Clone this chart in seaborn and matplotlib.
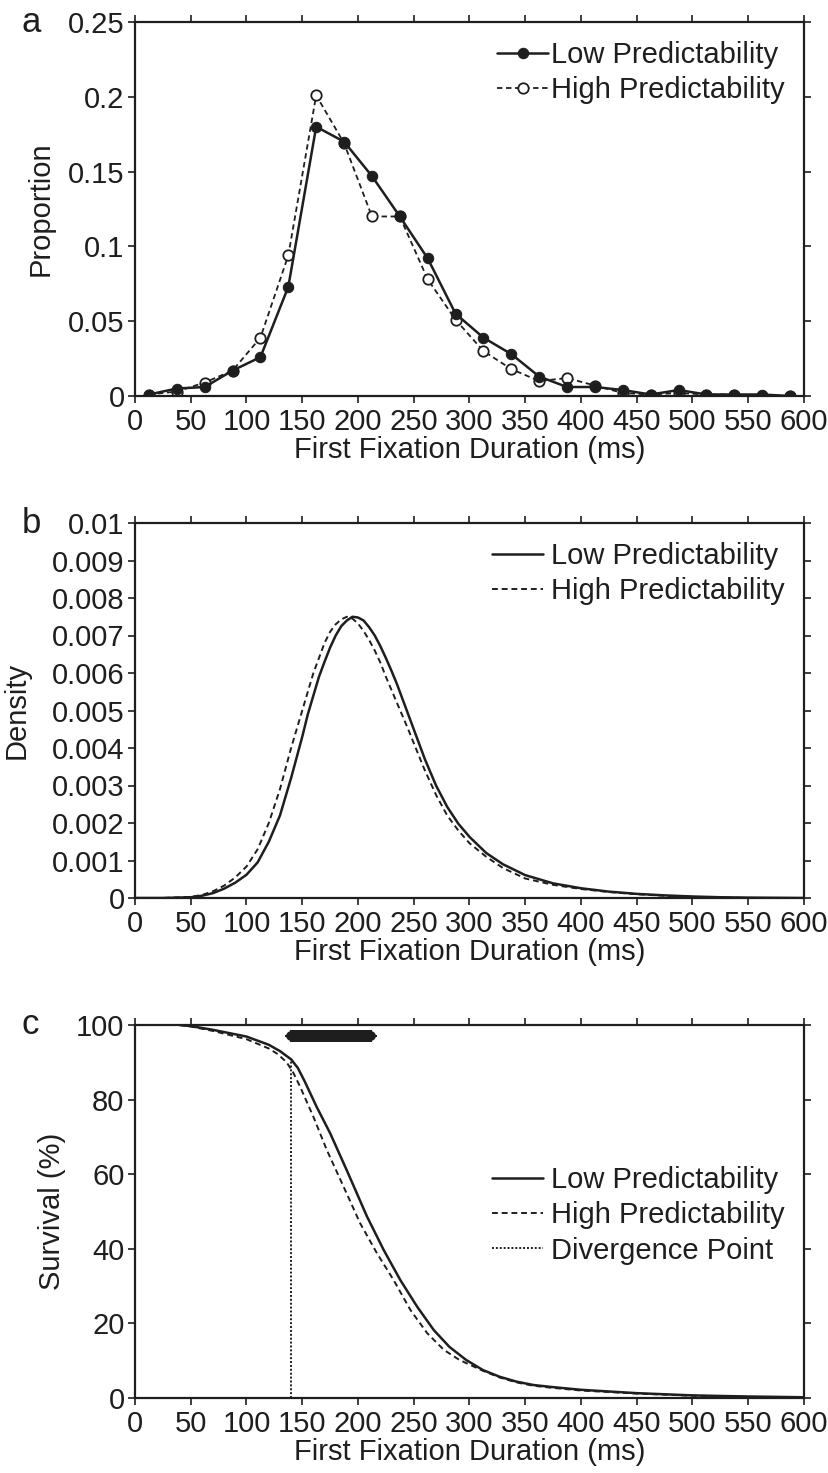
import numpy as np
import pandas as pd
import matplotlib
matplotlib.use("Agg")
import matplotlib.pyplot as plt
import seaborn as sns

# -----------------------------
# Data
# -----------------------------

# panel a: proportion per 25 ms bin (bin centres)
bin_centres = [12.5, 37.5, 62.5, 87.5, 112.5, 137.5, 162.5, 187.5, 212.5, 237.5,
               262.5, 287.5, 312.5, 337.5, 362.5, 387.5, 412.5, 437.5, 462.5,
               487.5, 512.5, 537.5, 562.5, 587.5]
prop_low = [0.001, 0.005, 0.006, 0.017, 0.026, 0.073, 0.180, 0.170, 0.147, 0.120,
            0.092, 0.055, 0.039, 0.028, 0.013, 0.006, 0.006, 0.004, 0.001,
            0.004, 0.001, 0.001, 0.001, 0.000]
prop_high = [0.001, 0.003, 0.009, 0.017, 0.039, 0.094, 0.201, 0.169, 0.120, 0.120,
             0.078, 0.051, 0.030, 0.018, 0.010, 0.012, 0.007, 0.002, 0.001,
             0.002, 0.001, 0.001, 0.000, 0.000]

# panel b: density curves
dens_x = [0, 25, 50, 60, 70, 80, 90, 100, 110, 120,
          130, 140, 150, 155, 160, 165, 170, 175, 180, 185,
          190, 195, 200, 205, 210, 215, 220, 225, 230, 235,
          240, 245, 250, 260, 270, 280, 290, 300, 315, 330,
          350, 375, 400, 425, 450, 475, 500, 525, 550, 600]
dens_low = [0, 0, 0.00002, 0.00006, 0.00013, 0.00025, 0.00041, 0.00062, 0.00095, 0.0015,
            0.0022, 0.0032, 0.0043, 0.0049, 0.0054, 0.0059, 0.0063, 0.00668, 0.0070, 0.00725,
            0.0074, 0.0075, 0.00748, 0.0074, 0.00722, 0.0070, 0.00672, 0.0064, 0.00606, 0.0057,
            0.0053, 0.0049, 0.0045, 0.0037, 0.0030, 0.00243, 0.00198, 0.00163, 0.0012, 0.0009,
            0.00061, 0.00039, 0.00026, 0.00017, 0.00011, 0.00007, 0.00004, 0.00002, 0.00001, 0]
dens_high = [0, 0, 0.00003, 0.00008, 0.00018, 0.00033, 0.00055, 0.00084, 0.0013, 0.0020,
             0.0029, 0.0040, 0.0050, 0.0055, 0.0060, 0.0064, 0.0068, 0.0071, 0.0073, 0.00743,
             0.0075, 0.00745, 0.00732, 0.00712, 0.00688, 0.0066, 0.00628, 0.0059, 0.00555, 0.0052,
             0.00485, 0.0045, 0.00413, 0.0034, 0.00275, 0.0022, 0.0018, 0.00146, 0.0011, 0.0008,
             0.00052, 0.00035, 0.00024, 0.00016, 0.0001, 0.00006, 0.00003, 0.00001, 0, 0]

# panel c: survival curves
surv_low_x = [40, 50, 70, 100, 120, 130, 140, 146, 152, 163, 175, 190, 208, 223,
              238, 253, 268, 282, 297, 312, 327, 342, 357, 372, 400, 450, 500,
              550, 600]
surv_low = [100, 99.7, 98.7, 96.9, 94.7, 93.0, 90.8, 88.5, 85.0, 78, 71, 61, 48.7,
            39.7, 31.6, 24.5, 18.2, 13.7, 10.2, 7.5, 5.7, 4.4, 3.5, 3.0, 2.2, 1.3,
            0.7, 0.4, 0.2]
surv_high_x = [40, 50, 70, 100, 120, 128, 136, 142, 148, 160, 172, 187, 202, 217,
               232, 247, 262, 277, 291, 312, 327, 342, 357, 372, 400, 450, 500,
               550, 600]
surv_high = [100, 99.6, 98.4, 96.2, 93.7, 92.2, 90.0, 87.2, 83.5, 75.4, 66.5, 56.7,
             46.8, 38.8, 31.6, 23.6, 17.4, 12.9, 10.2, 7.3, 5.5, 4.2, 3.3, 2.8, 2.0,
             1.2, 0.6, 0.3, 0.1]
divergence_ms = 140
divergence_top = 91
sig_start, sig_end, sig_level = 140, 212, 97

xlabel = "First Fixation Duration (ms)"
xticks = list(range(0, 601, 50))

# -----------------------------
# Style
# -----------------------------

sns.set_style("ticks")
plt.rcParams["font.family"] = ["Liberation Sans", "DejaVu Sans"]
FS = 21
plt.rcParams["font.size"] = FS
ink = "#1e1e1e"
plt.rcParams["text.color"] = ink
plt.rcParams["axes.labelcolor"] = ink
plt.rcParams["xtick.color"] = ink
plt.rcParams["ytick.color"] = ink

W, H = 829, 1473
fig = plt.figure(figsize=(W / 100, H / 100), dpi=100)


def make_axes(top, bottom):
    return fig.add_axes([135 / W, (H - bottom) / H, 669 / W, (bottom - top) / H])


def style_axes(ax, yticks, ylab, ylab_px):
    ax.set_xlim(0, 600)
    ax.set_ylim(yticks[0], yticks[-1])
    ax.set_xticks(xticks)
    ax.set_yticks(yticks)
    ax.tick_params(direction="out", length=5, width=1.2, labelsize=FS,
                   top=True, right=True)
    ax.tick_params(axis="x", pad=3.5)
    ax.tick_params(axis="y", pad=2.5)
    for s in ax.spines.values():
        s.set_linewidth(1.6)
        s.set_color(ink)
    ax.set_xlabel(xlabel, fontsize=FS)
    ax.set_ylabel(ylab, fontsize=FS)
    h = ax.get_position().height * H
    ax.xaxis.set_label_coords(0.5, -40 / h)
    ax.yaxis.set_label_coords((ylab_px - 135) / 669, 0.5)


leg_kw = dict(frameon=False, fontsize=FS, handlelength=1.75,
              labelspacing=0.25, borderaxespad=0.25)

# -----------------------------
# Panel a
# -----------------------------

ax_a = make_axes(22, 396)
df_a = pd.DataFrame({"x": bin_centres, "low": prop_low, "high": prop_high})
sns.lineplot(data=df_a, x="x", y="low", ax=ax_a, color=ink, lw=1.8,
             marker="o", markersize=7.5, markerfacecolor=ink,
             markeredgecolor=ink, label="Low Predictability", zorder=3)
sns.lineplot(data=df_a, x="x", y="high", ax=ax_a, color=ink, lw=1.3,
             linestyle=(0, (3, 2)), marker="o", markersize=7.5,
             markerfacecolor="white", markeredgecolor=ink, markeredgewidth=1.3,
             label="High Predictability", zorder=2)
style_axes(ax_a, [0, 0.05, 0.1, 0.15, 0.2, 0.25], "Proportion", 55)
ax_a.set_yticklabels(["0", "0.05", "0.1", "0.15", "0.2", "0.25"])
ax_a.legend(loc="upper right", handletextpad=0.1, **leg_kw)

# -----------------------------
# Panel b
# -----------------------------

ax_b = make_axes(523, 898)
df_b = pd.DataFrame({"x": dens_x, "low": dens_low, "high": dens_high})
sns.lineplot(data=df_b, x="x", y="low", ax=ax_b, color=ink, lw=1.8,
             label="Low Predictability")
sns.lineplot(data=df_b, x="x", y="high", ax=ax_b, color=ink, lw=1.4,
             linestyle=(0, (3, 2)), label="High Predictability")
yt_b = [i / 1000 for i in range(11)]
style_axes(ax_b, yt_b, "Density", 31)
ax_b.set_yticklabels(["0"] + ["%g" % v for v in yt_b[1:]])
ax_b.legend(loc="upper right", handletextpad=0.3, **leg_kw)

# -----------------------------
# Panel c
# -----------------------------

ax_c = make_axes(1025, 1398)
df_cl = pd.DataFrame({"x": surv_low_x, "y": surv_low})
df_ch = pd.DataFrame({"x": surv_high_x, "y": surv_high})
sns.lineplot(data=df_cl, x="x", y="y", ax=ax_c, color=ink, lw=1.8,
             label="Low Predictability")
sns.lineplot(data=df_ch, x="x", y="y", ax=ax_c, color=ink, lw=1.4,
             linestyle=(0, (3, 2)), label="High Predictability")
ax_c.plot([divergence_ms, divergence_ms], [0, divergence_top], color=ink,
          lw=1.4, linestyle=(0, (1, 1)), label="Divergence Point")
# significant time points, drawn as a thick run of markers
sig_x = np.arange(sig_start, sig_end + 1)
ax_c.plot(sig_x, np.full(len(sig_x), sig_level), color=ink, lw=7,
          solid_capstyle="round", marker="+", markersize=9, mew=1.5,
          clip_on=False, zorder=4)
style_axes(ax_c, [0, 20, 40, 60, 80, 100], "Survival (%)", 66)
ax_c.legend(loc="center right", bbox_to_anchor=(1.0, 0.49),
            handletextpad=0.3, **leg_kw)

# panel letters
fig.text(22 / W, 1 - 22 / H, "a", fontsize=25, va="center")
fig.text(22 / W, 1 - 524 / H, "b", fontsize=25, va="center")
fig.text(22 / W, 1 - 1024 / H, "c", fontsize=25, va="center")

plt.savefig("out.png", dpi=100)
plt.close()
print("Saved out.png")
